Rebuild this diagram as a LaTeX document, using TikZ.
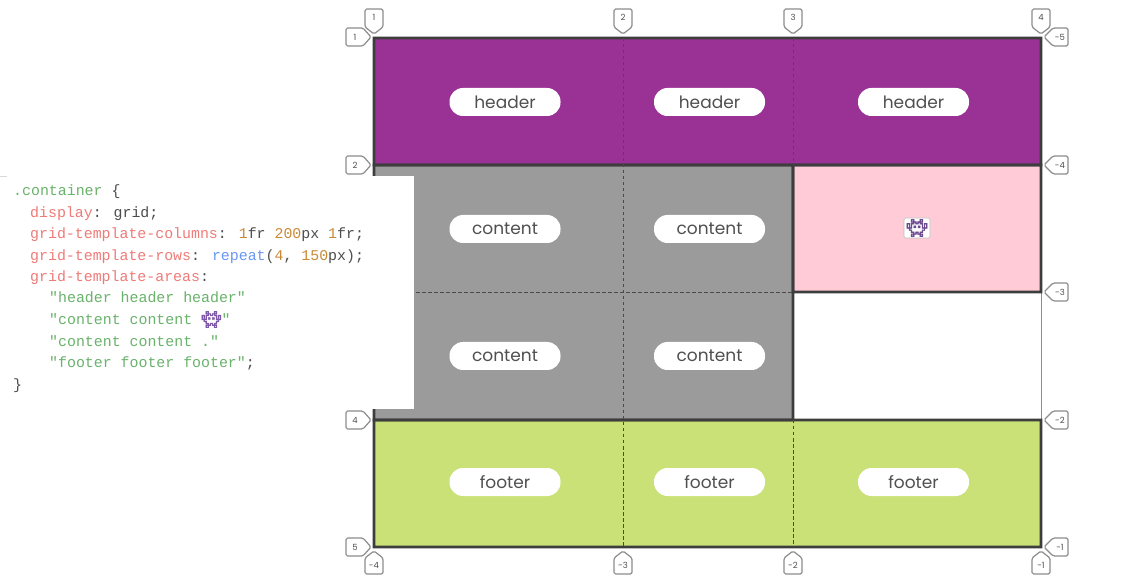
\documentclass[tikz,border=0pt]{standalone}
\usepackage{fontspec}
\setmainfont{Poppins}
\newfontfamily\codefont{Liberation Mono}
\newfontfamily\emojifont[FakeBold=3]{Noto Emoji}
\definecolor{cpurple}{HTML}{9A3195}
\definecolor{cgray}{HTML}{9B9B9B}
\definecolor{cpink}{HTML}{FFCBD6}
\definecolor{cgreen}{HTML}{C9E176}
\definecolor{cdark}{HTML}{3D3D3D}
\definecolor{cdash}{HTML}{4A4A4A}
\definecolor{ctag}{HTML}{8C8C8C}
\definecolor{ctxt}{HTML}{505050}
\definecolor{csel}{HTML}{69B36B}
\definecolor{cprop}{HTML}{EE7B78}
\definecolor{cnum}{HTML}{C98A35}
\definecolor{cfun}{HTML}{6A97F0}
\definecolor{cplain}{HTML}{4D4D4D}
\definecolor{cemoji}{HTML}{7E57A8}
\tikzset{
  x=1pt,y=-1pt,
  area/.style={fill=cdark,even odd rule},
  gridline/.style={draw=cdash,line width=0.8pt,dash pattern=on 3.5pt off 2.5pt},
  pill/.style={fill=white,rounded corners=13.5pt,minimum width=111pt,minimum height=28pt,inner sep=0pt,text=ctxt,font=\fontsize{17}{17}\selectfont},
  tagline/.style={draw=ctag,line width=1.2pt,fill=white,rounded corners=1.6pt,line join=round},
  taglabel/.style={text=ctxt,inner sep=0pt,font=\fontsize{8.5}{8.5}\selectfont},
  codeline/.style={anchor=base west,inner sep=0pt,text=cplain,font=\codefont\fontsize{14.9}{15}\selectfont},
}
\newcommand{\areaframe}[4]{\path[area] (#1-1.4,#2-1.4) rectangle (#3+1.4,#4+1.4) (#1+1.4,#2+1.4) rectangle (#3-1.4,#4-1.4);}
\newcommand{\tagdown}[3]{\draw[tagline] (#1-9,9) -- (#1+9,9) -- (#1+9,27) -- (#1,34) -- (#1-9,27) -- cycle; \node[taglabel] (#2) at (#1,17) {#3};}
\newcommand{\tagup}[3]{\draw[tagline] (#1-9,574) -- (#1+9,574) -- (#1+9,558) -- (#1,551) -- (#1-9,558) -- cycle; \node[taglabel] (#2) at (#1,565) {#3};}
\newcommand{\tagright}[3]{\draw[tagline] (346,#1-9) -- (363,#1-9) -- (371,#1) -- (363,#1+9) -- (346,#1+9) -- cycle; \node[taglabel] (#2) at (355,#1) {#3};}
\newcommand{\tagleft}[3]{\draw[tagline] (1068,#1-9) -- (1053,#1-9) -- (1044,#1) -- (1053,#1+9) -- (1068,#1+9) -- cycle; \node[taglabel] (#2) at (1060,#1) {#3};}
\newcommand{\cP}[1]{\textcolor{cprop}{#1}}
\newcommand{\cN}[1]{\textcolor{cnum}{#1}}
\newcommand{\cS}[1]{\textcolor{csel}{#1}}
\newcommand{\cF}[1]{\textcolor{cfun}{#1}}
\begin{document}
\begin{tikzpicture}
\useasboundingbox (0,0) rectangle (1128,585);
\fill[white] (0,0) rectangle (1128,585);
% area fills
\fill[cpurple] (374,38) rectangle (1041,165);
\fill[cgray] (374,165) rectangle (793,420);
\fill[cpink] (793,165) rectangle (1041,292);
\fill[cgreen] (374,420) rectangle (1041,547);
\draw[draw=ctag,line width=0.9pt] (1041.5,292) -- (1041.5,420);
% area borders
\areaframe{374}{38}{1041}{165}
\areaframe{374}{165}{793}{420}
\areaframe{793}{165}{1041}{292}
\areaframe{374}{420}{1041}{547}
% grid lines
\draw[gridline] (623,38) -- (623,547);
\draw[gridline] (793,38) -- (793,165);
\draw[gridline] (793,420) -- (793,547);
\draw[gridline] (374,292) -- (793,292);
% pills
\foreach \n/\cy/\t in {h/102/header,f/482/footer}{
  \node[pill] (\n1) at (505,\cy) {\t};
  \node[pill] (\n2) at (709.5,\cy) {\t};
  \node[pill] (\n3) at (913.5,\cy) {\t};
}
\node[pill] (c1) at (505,229) {content};
\node[pill] (c2) at (709.5,229) {content};
\node[pill] (c3) at (505,356) {content};
\node[pill] (c4) at (709.5,356) {content};
\node[draw=black!25,line width=0.6pt,fill=white,rounded corners=1.5pt,minimum width=26pt,minimum height=20pt,inner sep=0pt,text=cemoji!85!black,font=\emojifont\fontsize{17}{17}\selectfont] (em) at (917,228) {\char"1F47E};
% tags
\tagright{37}{la}{1}
\tagright{165}{lb}{2}
\tagright{420}{ld}{4}
\tagright{547}{le}{5}
\tagleft{37}{ra}{-5}
\tagleft{165}{rb}{-4}
\tagleft{292}{rc}{-3}
\tagleft{420}{rd}{-2}
\tagleft{547}{re}{-1}
\tagdown{374}{ta}{1}
\tagdown{623}{tb}{2}
\tagdown{793}{tc}{3}
\tagdown{1041}{td}{4}
\tagup{374}{ba}{-4}
\tagup{623}{bb}{-3}
\tagup{793}{bc}{-2}
\tagup{1041}{bd}{-1}
% code panel
\fill[white] (0,176) rectangle (414,409);
\draw[black!15,line width=0.5pt] (0,176) -- (7,176);
\node[codeline] (l1) at (13,196) {\cS{.container} \{};
\node[codeline] (l2) at (30,218) {\cP{display}: grid;};
\node[codeline] (l3) at (30,239) {\cP{grid-template-columns}: \cN{1}fr \cN{200}px \cN{1}fr;};
\node[codeline] (l4) at (30,261) {\cP{grid-template-rows}: \cF{repeat}(\cN{4}, \cN{150}px);};
\node[codeline] (l5) at (30,282) {\cP{grid-template-areas}:};
\node[codeline] (l6) at (49,303) {\cS{"header header header"}};
\node[codeline] (l7) at (49,325) {\cS{"content content }\textcolor{cemoji}{\emojifont\fontsize{16}{16}\selectfont\char"1F47E}\cS{"}};
\node[codeline] (l8) at (49,347) {\cS{"content content ."}};
\node[codeline] (l9) at (49,368) {\cS{"footer footer footer"};};
\node[codeline] (l10) at (13,390) {\}};
\end{tikzpicture}
\end{document}
